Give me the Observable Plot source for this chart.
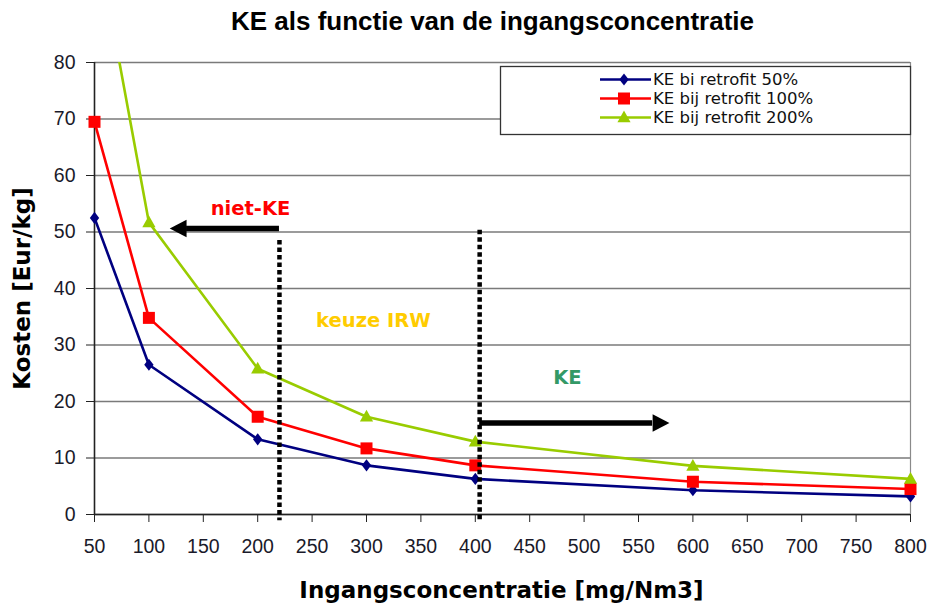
<!DOCTYPE html>
<html><head><meta charset="utf-8">
<script src="https://cdn.jsdelivr.net/npm/d3@7"></script>
<script src="https://cdn.jsdelivr.net/npm/@observablehq/plot@0.6"></script>
<style>body{margin:0;background:#fff}</style>
</head><body><div id="chart"></div>
<script>
// ---- data ----
const titleText = "KE als functie van de ingangsconcentratie";
const xLabel = "Ingangsconcentratie [mg/Nm3]";
const yLabel = "Kosten [Eur/kg]";
const concentrations = [50, 100, 200, 300, 400, 600, 800];
const retrofit50  = [52.5, 26.5, 13.3, 8.7, 6.3, 4.3, 3.2];
const retrofit100 = [69.5, 34.8, 17.3, 11.7, 8.7, 5.8, 4.5];
const retrofit200 = [104, 51.7, 25.8, 17.3, 12.9, 8.6, 6.3];
const seriesNames = ["KE bi retrofit 50%", "KE bij retrofit 100%", "KE bij retrofit 200%"];
const seriesColors = ["#000080", "#ff0000", "#99cc00"];
const xTicks = [50,100,150,200,250,300,350,400,450,500,550,600,650,700,750,800];
const yTicks = [0,10,20,30,40,50,60,70,80];
const yMax = 80;
const boundaryX = [220, 404];
const boundaryTop = [48.5, 50.3];
const boundaryBottom = [-1.1, -1.1];
const arrowFrom = [220, 404];
const arrowTo = [134.6, 563];
const arrowY = [50.6, 16.2];
const arrowDir = ["left", "right"];
const noteTexts = ["niet-KE", "keuze IRW", "KE"];
const noteX = [193.4, 306.4, 484.7];
const noteY = [54.2, 34.3, 24.2];
const noteColors = ["#ff0000", "#ffcc00", "#339966"];

// ---- derived tables ----
const seriesValues = [retrofit50, retrofit100, retrofit200];
const series = seriesNames.map((name, i) => concentrations.map((c, j) => ({series: name, x: c, y: seriesValues[i][j]})));
const boundaries = boundaryX.map((x, i) => ({x, top: boundaryTop[i], bottom: boundaryBottom[i]}));
const arrows = arrowFrom.map((f, i) => ({from: f, to: arrowTo[i], y: arrowY[i], dir: arrowDir[i]}));
const notes = noteTexts.map((t, i) => ({text: t, x: noteX[i], y: noteY[i], color: noteColors[i]}));

// ---- custom symbols ----
const kOf = size => Math.sqrt(size / Math.PI);
const diamond = {draw(c, size){const k = kOf(size); c.moveTo(0,-1.1*k); c.lineTo(0.85*k,0); c.lineTo(0,1.1*k); c.lineTo(-0.85*k,0); c.closePath();}};
const square = {draw(c, size){const k = kOf(size); c.rect(-k,-k,2*k,2*k);}};
const triangle = {draw(c, size){const k = kOf(size); c.moveTo(0,-1.15*k); c.lineTo(1.1*k,0.8*k); c.lineTo(-1.1*k,0.8*k); c.closePath();}};
const headLeft = {draw(c, size){const k = kOf(size); c.moveTo(0,-1.25*k); c.lineTo(-2.4*k,0); c.lineTo(0,1.25*k); c.closePath();}};
const headRight = {draw(c, size){const k = kOf(size); c.moveTo(0,-1.25*k); c.lineTo(2.4*k,0); c.lineTo(0,1.25*k); c.closePath();}};
const seriesSymbols = [diamond, square, triangle];
const seriesR = [5.5, 6, 6];

const bold = "DejaVu Sans";

const marks = [
  Plot.gridY(yTicks, {stroke: "#7a7a7a", strokeOpacity: 1, strokeWidth: 1.3}),
  Plot.ruleX([800], {stroke: "#8a8a8a", strokeWidth: 1.2}),
  Plot.axisX({ticks: xTicks, tickSize: 8, tickPadding: 17, fontSize: 19.5, label: null, tickFormat: d => String(d), stroke: "#222", fill: "#1a1a2a"}),
  Plot.axisY({ticks: yTicks, tickSize: 8, tickPadding: 11, fontSize: 19.5, label: null, tickFormat: d => String(d), stroke: "#222", fill: "#1a1a2a"}),
  Plot.ruleY([0], {stroke: "#222", strokeWidth: 1.6}),
  Plot.ruleX([50], {stroke: "#222", strokeWidth: 1.6})
];
series.forEach((s, i) => {
  marks.push(Plot.line(s, {x: "x", y: "y", stroke: seriesColors[i], strokeWidth: 2.6, clip: true}));
});
series.forEach((s, i) => {
  marks.push(Plot.dot(s, {x: "x", y: "y", filter: d => d.y <= yMax, symbol: seriesSymbols[i], r: seriesR[i], fill: seriesColors[i], stroke: "none"}));
});
marks.push(
  Plot.ruleX(boundaries, {x: "x", y1: "top", y2: "bottom", stroke: "#000", strokeWidth: 4.5, strokeDasharray: "4.5,3"}),
  Plot.ruleY(arrows, {y: "y", x1: "from", x2: "to", stroke: "#000", strokeWidth: 5.5}),
  Plot.dot(arrows.filter(a => a.dir === "left"), {x: "to", y: "y", symbol: headLeft, r: 7, fill: "#000", stroke: "none"}),
  Plot.dot(arrows.filter(a => a.dir === "right"), {x: "to", y: "y", symbol: headRight, r: 7, fill: "#000", stroke: "none"}),
  Plot.text(notes, {x: "x", y: "y", text: "text", fill: "color", fontSize: 19.5, fontWeight: "bold", fontFamily: bold}),
  Plot.text([titleText], {text: d => d, frameAnchor: "top", textAnchor: "middle", lineAnchor: "middle", dy: -41, dx: -10, fontSize: 26, fontWeight: "bold", fontFamily: "Liberation Sans", fill: "#000"}),
  Plot.text([yLabel], {text: d => d, frameAnchor: "left", textAnchor: "middle", lineAnchor: "middle", dx: -72, rotate: -90, fontSize: 23, fontWeight: "bold", fontFamily: bold, fill: "#000"}),
  Plot.text([xLabel], {text: d => d, frameAnchor: "bottom", textAnchor: "middle", lineAnchor: "middle", dy: 76, dx: -1, fontSize: 23, fontWeight: "bold", fontFamily: bold, fill: "#000"})
);

const chart = Plot.plot({
  width: 927,
  height: 607,
  marginLeft: 94,
  marginRight: 17,
  marginTop: 62,
  marginBottom: 93,
  x: {domain: [50, 800]},
  y: {domain: [0, yMax]},
  color: {type: "identity"},
  style: {fontFamily: "Liberation Sans", color: "#1a1a1a", background: "#fff", overflow: "visible"},
  marks
});
document.getElementById("chart").appendChild(chart);

// ---- legend ----
const svg = d3.select(chart);
const lg = svg.append("g").attr("text-anchor", "start");
lg.append("rect").attr("x", 500.5).attr("y", 66.5).attr("width", 410).attr("height", 68)
  .attr("fill", "#fff").attr("stroke", "#333").attr("stroke-width", 1.3);
const rowY = [79.5, 98.5, 117.5];
seriesNames.forEach((name, i) => {
  const y = rowY[i];
  lg.append("line").attr("x1", 600).attr("x2", 651).attr("y1", y).attr("y2", y)
    .attr("stroke", seriesColors[i]).attr("stroke-width", 2.6);
  lg.append("path").attr("transform", `translate(624,${y})`)
    .attr("d", d3.symbol(seriesSymbols[i], Math.PI * seriesR[i] * seriesR[i])())
    .attr("fill", seriesColors[i]);
  lg.append("text").attr("x", 653).attr("y", y).attr("dy", "0.36em")
    .attr("text-anchor", "start")
    .attr("font-family", "DejaVu Sans").attr("font-size", 16.5).attr("fill", "#111")
    .text(name);
});
</script>
</body></html>
